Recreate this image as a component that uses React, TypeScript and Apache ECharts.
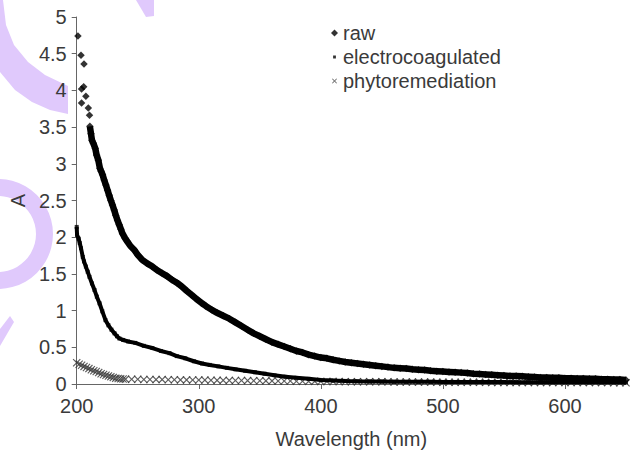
import React, { useEffect, useRef } from "react";
import * as echarts from "echarts";

// Absorbance spectra: [wavelength nm, A]
const raw: [number, number][] = [
  [201, 4.74], [203.5, 4.48], [206, 4.36], [205.7, 4.05], [204, 4.02], [207.5, 3.92], [204, 3.83], [209.5, 3.76], [210.5, 3.66],
  [210.8, 3.51], [211.7, 3.41], [212.5, 3.32], [213.6, 3.28], [215.2, 3.21], [216.3, 3.12], [217.7, 3.05], [219, 2.94], [220, 2.9],
  [221.2, 2.85], [222.5, 2.78], [223.9, 2.71], [225.3, 2.64], [226.6, 2.57], [228, 2.5], [229.3, 2.44], [230.7, 2.37], [232, 2.3],
  [233.4, 2.23], [234.8, 2.17], [236.2, 2.11], [237.5, 2.05], [239.5, 1.99], [241.5, 1.94], [244, 1.88], [247, 1.83], [250, 1.76],
  [253.7, 1.69], [258, 1.64], [262, 1.6], [266, 1.55], [270, 1.51], [274, 1.47], [278, 1.42], [282, 1.38], [286, 1.33], [290, 1.27],
  [294.5, 1.21], [298, 1.16], [302.6, 1.1], [306, 1.06], [310.7, 1.01], [315, 0.97], [320, 0.93], [325, 0.89], [330, 0.84],
  [335, 0.79], [340, 0.74], [345, 0.69], [350, 0.65], [355, 0.61], [360, 0.57], [365, 0.54], [370, 0.51], [375, 0.48], [380, 0.45],
  [385, 0.43], [390, 0.4], [395, 0.38], [400, 0.36], [405, 0.35], [410, 0.33], [415, 0.315], [420, 0.3], [425, 0.29], [430, 0.28],
  [435, 0.27], [440, 0.26], [445, 0.25], [450, 0.24], [455, 0.23], [460, 0.22], [465, 0.215], [470, 0.21], [475, 0.2], [480, 0.195],
  [485, 0.19], [490, 0.18], [495, 0.175], [500, 0.17], [505, 0.165], [510, 0.16], [515, 0.155], [520, 0.15], [525, 0.14],
  [530, 0.135], [535, 0.13], [540, 0.125], [545, 0.12], [550, 0.115], [555, 0.11], [560, 0.11], [565, 0.105], [570, 0.1],
  [575, 0.095], [580, 0.09], [585, 0.09], [590, 0.085], [595, 0.085], [600, 0.08], [605, 0.08], [610, 0.075], [615, 0.075],
  [620, 0.07], [625, 0.07], [630, 0.065], [635, 0.065], [640, 0.06], [645, 0.06], [650, 0.055],
];
const rawBandStart = 9;

const electrocoagulated: [number, number][] = [
  [200, 2.14], [200.3, 2.03], [201.6, 1.98], [202.5, 1.92], [203.5, 1.85], [205, 1.73], [206, 1.67], [207.5, 1.6], [209, 1.53],
  [210.5, 1.46], [212.5, 1.37], [214.6, 1.28], [216.5, 1.19], [218.7, 1.1], [221, 0.99], [223.6, 0.87], [226, 0.8], [228.5, 0.74],
  [231, 0.69], [233, 0.65], [235, 0.62], [238, 0.6], [242, 0.58], [248, 0.56], [255, 0.52], [262, 0.49], [269, 0.45], [276, 0.42],
  [282, 0.38], [289, 0.35], [296, 0.31], [302.6, 0.28], [309, 0.26], [316, 0.24], [323, 0.22], [330, 0.2], [338, 0.18], [346, 0.16],
  [354, 0.14], [362, 0.12], [371, 0.1], [380, 0.085], [390, 0.07], [400, 0.055], [410, 0.048], [420, 0.042], [430, 0.038],
  [440, 0.035], [450, 0.033], [460, 0.031], [470, 0.03], [480, 0.03], [490, 0.029], [500, 0.028], [510, 0.028], [520, 0.027],
  [530, 0.027], [540, 0.026], [550, 0.026], [560, 0.025], [570, 0.025], [580, 0.025], [590, 0.024], [600, 0.024], [610, 0.024],
  [620, 0.023], [630, 0.023], [640, 0.023], [650, 0.022],
];

const phytoremediation: [number, number][] = [
  [200, 0.29], [202, 0.27], [204, 0.255], [206, 0.24], [208, 0.225], [210, 0.21], [212, 0.195], [214, 0.18], [216, 0.17],
  [218, 0.155], [220, 0.14], [222, 0.13], [224, 0.12], [226, 0.11], [228, 0.1], [230, 0.09], [232, 0.08], [234, 0.075],
  [236, 0.07], [238, 0.068], [240, 0.066], [245, 0.065], [250, 0.064], [255, 0.062], [260, 0.062], [265, 0.06], [270, 0.06],
  [275, 0.058], [280, 0.058], [285, 0.056], [290, 0.056], [295, 0.055], [300, 0.054], [305, 0.053], [310, 0.052], [315, 0.05],
  [320, 0.05], [325, 0.049], [330, 0.048], [335, 0.047], [340, 0.046], [345, 0.045], [350, 0.044], [355, 0.043], [360, 0.042],
  [365, 0.041], [370, 0.04], [375, 0.04], [380, 0.038], [385, 0.037], [390, 0.036], [395, 0.036], [400, 0.035], [405, 0.034],
  [410, 0.034], [415, 0.033], [420, 0.032], [425, 0.032], [430, 0.031], [435, 0.031], [440, 0.03], [445, 0.03], [450, 0.029],
  [455, 0.029], [460, 0.028], [465, 0.028], [470, 0.027], [475, 0.027], [480, 0.026], [485, 0.026], [490, 0.026], [495, 0.025],
  [500, 0.025], [505, 0.025], [510, 0.024], [515, 0.024], [520, 0.024], [525, 0.023], [530, 0.023], [535, 0.023], [540, 0.022],
  [545, 0.022], [550, 0.022], [555, 0.022], [560, 0.021], [565, 0.021], [570, 0.021], [575, 0.021], [580, 0.02], [585, 0.02],
  [590, 0.02], [595, 0.02], [600, 0.02], [605, 0.02], [610, 0.02], [615, 0.019], [620, 0.019], [625, 0.019], [630, 0.019],
  [635, 0.019], [640, 0.018], [645, 0.018], [650, 0.018],
];

const seriesNames = ["raw", "electrocoagulated", "phytoremediation"];
const xTickValues = [200, 300, 400, 500, 600];
const xName = "Wavelength (nm)";
const yName = "A";

const FONT = "'Liberation Sans', Arial, sans-serif";
const TEXT = "#3a3a3a";
const WM = "#e0c9fc";

const crossPath = "path://M0,1L1,0L5,4L9,0L10,1L6,5L10,9L9,10L5,6L1,10L0,9L4,5Z";
const legendDiamond = "path://M5,0L10,5L5,10L0,5Z";
const legendSquare = "path://M0,0L0,0ZM10,10L10,10ZM3,3L7,3L7,7L3,7Z";
const legendCross = "path://M0,0L0,0ZM10,10L10,10ZM1.5,2.3L2.3,1.5L5,4.2L7.7,1.5L8.5,2.3L5.8,5L8.5,7.7L7.7,8.5L5,5.8L2.3,8.5L1.5,7.7L4.2,5Z";

export default function App() {
  const ref = useRef<HTMLDivElement>(null);
  useEffect(() => {
    document.body.style.margin = "0";
    if (!ref.current) return;
    const chart = echarts.init(ref.current, null, { renderer: "svg" });
    chart.setOption({
      animation: false,
      backgroundColor: "#ffffff",
      textStyle: { fontFamily: FONT },
      grid: { left: 74, right: 9, top: 17, bottom: 70 },
      legend: {
        orient: "vertical",
        left: 326,
        top: 18,
        itemWidth: 7,
        itemHeight: 7,
        itemGap: 4,
        textStyle: { fontFamily: FONT, fontSize: 20, color: TEXT, lineHeight: 20 },
        data: [
          { name: seriesNames[0], icon: legendDiamond },
          { name: seriesNames[1], icon: legendSquare },
          { name: seriesNames[2], icon: legendCross },
        ],
      },
      xAxis: {
        type: "value",
        min: 200,
        max: 650,
        interval: 100,
        name: xName,
        nameLocation: "middle",
        nameGap: 45,
        nameTextStyle: { fontFamily: FONT, fontSize: 20, color: TEXT },
        axisLine: { lineStyle: { color: "#666", width: 1 } },
        axisTick: { show: true, length: 5, lineStyle: { color: "#666" }, customValues: xTickValues },
        axisLabel: { fontFamily: FONT, fontSize: 20, color: TEXT, margin: 12, customValues: xTickValues },
        splitLine: { show: false },
      },
      yAxis: {
        type: "value",
        min: 0,
        max: 5,
        interval: 0.5,
        name: yName,
        nameLocation: "middle",
        nameRotate: 90,
        nameGap: 35,
        nameTextStyle: { fontFamily: FONT, fontSize: 20, color: TEXT },
        axisLine: { show: true, lineStyle: { color: "#666", width: 1 } },
        axisTick: { show: true, length: 5, lineStyle: { color: "#666" } },
        axisLabel: { fontFamily: FONT, fontSize: 20, color: TEXT, margin: 10 },
        splitLine: { show: false },
      },
      graphic: [
        {
          type: "polygon",
          z: 0,
          silent: true,
          shape: {
            points: [
              [0, 0], [3, 0], [6, 25], [14, 45], [28, 62], [45, 75], [68, 86], [68, 114],
              [50, 110], [32, 102], [15, 90], [0, 72],
            ],
          },
          style: { fill: WM },
        },
        {
          type: "polygon",
          z: 0,
          silent: true,
          shape: { points: [[136, 0], [154, 0], [154, 16], [146, 17]] },
          style: { fill: WM },
        },
        {
          type: "ring",
          z: 0,
          silent: true,
          shape: { cx: -2, cy: 234, r: 55, r0: 38 },
          style: { fill: WM },
        },
        {
          type: "polygon",
          z: 0,
          silent: true,
          shape: { points: [[0, 329], [10, 316], [14, 322], [0, 346]] },
          style: { fill: WM },
        },
      ],
      series: [
        {
          name: seriesNames[2],
          type: "scatter",
          data: phytoremediation,
          symbol: crossPath,
          symbolSize: 8,
          itemStyle: { color: "#333" },
          z: 3,
        },
        {
          name: seriesNames[1] + " band",
          type: "line",
          data: electrocoagulated,
          symbol: "none",
          lineStyle: { color: "#000", width: 4 },
          z: 4,
          silent: true,
        },
        {
          name: seriesNames[1],
          type: "scatter",
          data: electrocoagulated,
          symbol: "rect",
          symbolSize: 4,
          itemStyle: { color: "#000" },
          z: 4,
        },
        {
          name: seriesNames[0] + " band",
          type: "line",
          data: raw.slice(rawBandStart),
          symbol: "none",
          lineStyle: { color: "#000", width: 6.5 },
          z: 5,
          silent: true,
        },
        {
          name: seriesNames[0],
          type: "scatter",
          data: raw,
          symbol: "diamond",
          symbolSize: 7.5,
          itemStyle: { color: "#000" },
          z: 5,
        },
      ],
    });
    return () => chart.dispose();
  }, []);
  return <div ref={ref} style={{ width: 635, height: 454 }} />;
}
